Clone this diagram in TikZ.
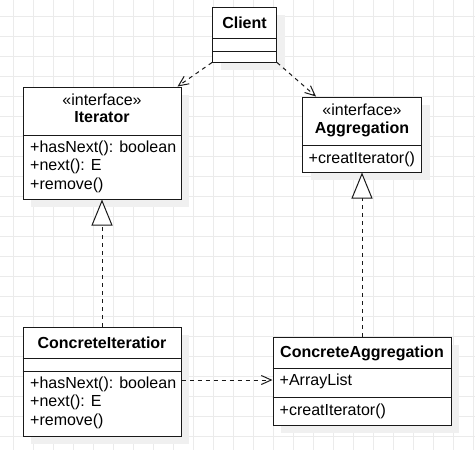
\documentclass[tikz,border=0pt]{standalone}
\usepackage{fontspec}
\setmainfont{Liberation Sans}
\usetikzlibrary{arrows.meta,shadows}

\tikzset{
  umlbox/.style={draw=black!90, line width=1pt, fill=white, rectangle, inner sep=0pt,
    drop shadow={shadow xshift=8pt, shadow yshift=-8pt, fill=black!6, opacity=1}},
  sepline/.style={draw=black!90, line width=1pt},
  member/.style={inner sep=0pt, anchor=base west, font=\fontsize{16}{19}\selectfont},
  classname/.style={inner sep=0pt, anchor=base, font=\fontsize{16}{19}\selectfont\bfseries},
  stereo/.style={inner sep=0pt, anchor=base, font=\fontsize{16}{19}\selectfont},
  dep/.style={draw=black!90, line width=1pt, dash pattern=on 4pt off 4pt,
    -{Straight Barb[length=10pt,width=9pt]}},
  realize/.style={draw=black!90, line width=1pt, dash pattern=on 4pt off 4pt,
    -{Triangle[length=26pt,width=21pt,fill=white]}},
  gridline/.style={draw=black!8, line width=0.8pt}
}

\begin{document}
\begin{tikzpicture}[x=1pt,y=-1pt]
\useasboundingbox (0,0) rectangle (475,450);

% background grid
\foreach \gx in {0,...,23}
  \draw[gridline] (13.3+20*\gx,0) -- (13.3+20*\gx,450);
\foreach \gy in {0,...,21}
  \draw[gridline] (0,16.7+20*\gy) -- (475,16.7+20*\gy);

% Client class
\node[umlbox, minimum width=64pt, minimum height=55pt] (client) at (244.5,34.5) {};
\node[classname] (clienttitle) at (244.5,28) {Client};
\draw[sepline] (client.west |- 0,38) -- (client.east |- 0,38);
\draw[sepline] (client.west |- 0,51) -- (client.east |- 0,51);

% Iterator interface
\node[umlbox, minimum width=158pt, minimum height=112pt] (iter) at (102,143) {};
\node[stereo] (iterstereo) at (102,105) {«interface»};
\node[classname] (itertitle) at (102,122) {Iterator};
\draw[sepline] (iter.west |- 0,135) -- (iter.east |- 0,135);
\node[member] (iterhas) at (30,152) {+hasNext(): boolean};
\node[member] (iternext) at (30,170.5) {+next(): E};
\node[member] (iterremove) at (30,189) {+remove()};

% Aggregation interface
\node[umlbox, minimum width=119pt, minimum height=75pt] (agg) at (362,134.5) {};
\node[stereo] (aggstereo) at (362,115) {«interface»};
\node[classname] (aggtitle) at (362,133) {Aggregation};
\draw[sepline] (agg.west |- 0,145) -- (agg.east |- 0,145);
\node[member] (aggcreat) at (308.5,163) {+creatIterator()};

% ConcreteIteratior class
\node[umlbox, minimum width=158pt, minimum height=109pt] (conit) at (102,381.5) {};
\node[classname] (conittitle) at (102,348) {ConcreteIteratior};
\draw[sepline] (conit.west |- 0,358) -- (conit.east |- 0,358);
\draw[sepline] (conit.west |- 0,371) -- (conit.east |- 0,371);
\node[member] (conithas) at (30,388) {+hasNext(): boolean};
\node[member] (conitnext) at (30,406.5) {+next(): E};
\node[member] (conitremove) at (30,425) {+remove()};

% ConcreteAggregation class
\node[umlbox, minimum width=178pt, minimum height=88pt] (conagg) at (362,381) {};
\node[classname] (conaggtitle) at (362,357.7) {ConcreteAggregation};
\draw[sepline] (conagg.west |- 0,368) -- (conagg.east |- 0,368);
\draw[sepline] (conagg.west |- 0,397) -- (conagg.east |- 0,397);
\node[member] (conagglist) at (279.5,385.7) {+ArrayList};
\node[member] (conaggcreat) at (279.5,415) {+creatIterator()};

% Relationships
\draw[dep] (client.south west) -- ([xshift=-4pt]iter.north east);
\draw[dep] (client.south east) -- ([xshift=14pt]agg.north west);
\draw[realize] (conit.north) -- (iter.south);
\draw[realize] (conagg.north) -- (agg.south);
\draw[dep] (conit.east |- 0,380) -- (conagg.west |- 0,380);

\end{tikzpicture}
\end{document}
